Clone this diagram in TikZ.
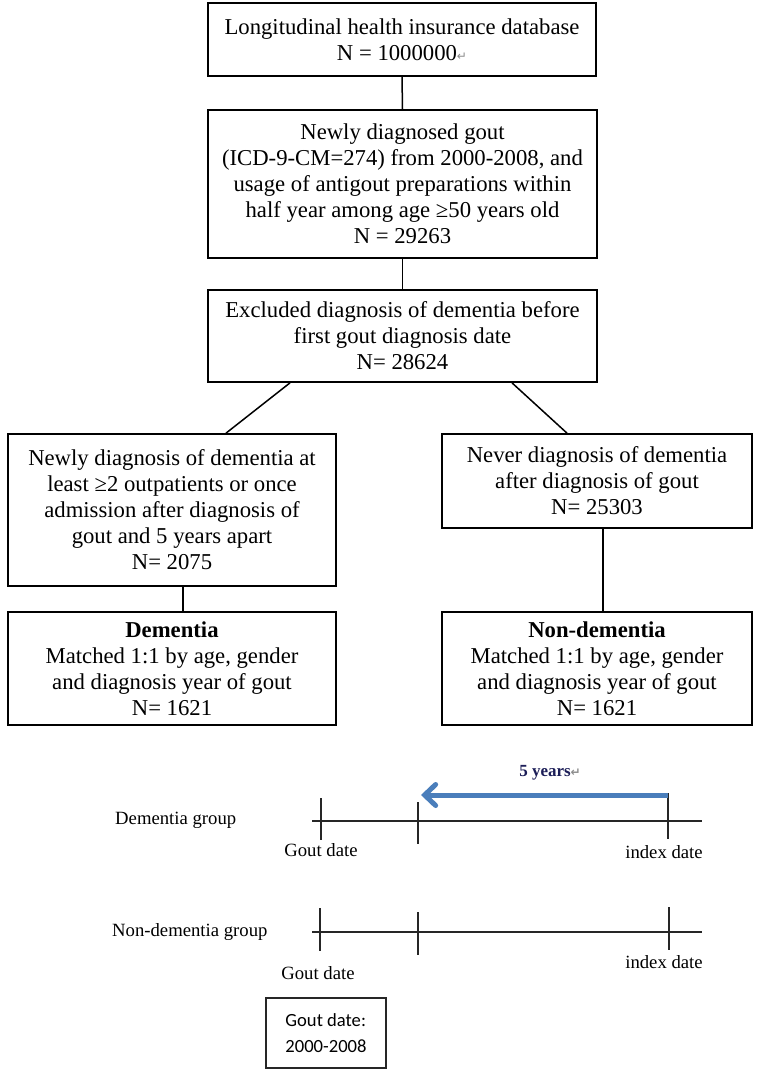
\documentclass[tikz,border=0pt]{standalone}
\usepackage{fontspec}
\setmainfont{Liberation Serif}
\newfontfamily\carlito{Carlito}
\newfontfamily\dejavu{DejaVu Sans}
\usepackage{xcolor}
\usepackage{tikz}
\usetikzlibrary{calc}
\usetikzlibrary{arrows.meta}
\definecolor{arrowblue}{RGB}{74,126,187}
\definecolor{yearsnavy}{RGB}{28,30,88}
\newcommand{\ret}{{\dejavu\color{black!45}\fontsize{12}{12}\selectfont\char"21B5}}
\tikzstyle{flowbox} = [draw=black, line width=1.7pt, rectangle, align=center,
inner sep=0pt, font=\fontsize{22.7}{26}\selectfont]
\tikzstyle{link} = [draw=black, line width=1.5pt]
\tikzstyle{timeaxis} = [draw=black!85, line width=1.5pt]
\tikzstyle{timelabel} = [inner sep=0pt, font=\fontsize{18.7}{21}\selectfont]

\begin{document}
\begin{tikzpicture}[x=1pt, y=-1pt]
        \fill[white] (0,0) rectangle (765,1073);
        \useasboundingbox (0,0) rectangle (765,1073);
        % flow chart
        \node [flowbox, minimum width=388pt, minimum height=73pt] (database) at (402,39.5)
            {Longitudinal health insurance database\\ N = 1000000\ret};
        \node [flowbox, minimum width=389pt, minimum height=148pt] (gout) at (402.5,184)
            {Newly diagnosed gout\\ (ICD-9-CM=274) from 2000-2008, and\\
             usage of antigout preparations within\\ half year among age ≥50 years old\\ N = 29263};
        \node [flowbox, minimum width=389pt, minimum height=92pt] (excluded) at (402.5,336)
            {Excluded diagnosis of dementia before\\ first gout diagnosis date\\ N= 28624};
        \node [flowbox, minimum width=328pt, minimum height=152pt] (newdem) at (172,510)
            {Newly diagnosis of dementia at\\ least ≥2 outpatients or once\\
             admission after diagnosis of\\ gout and 5 years apart\\ N= 2075};
        \node [flowbox, minimum width=310pt, minimum height=94pt] (neverdem) at (597,481)
            {Never diagnosis of dementia\\ after diagnosis of gout\\ N= 25303};
        \node [flowbox, minimum width=328pt, minimum height=113pt] (dem) at (172,668.5)
            {\textbf{Dementia}\\ Matched 1:1 by age, gender\\ and diagnosis year of gout\\ N= 1621};
        \node [flowbox, minimum width=310pt, minimum height=113pt] (nondem) at (597,668.5)
            {\textbf{Non-dementia}\\ Matched 1:1 by age, gender\\ and diagnosis year of gout\\ N= 1621};
        \draw [link] (database.south) -- (gout.north);
        \draw [link] (gout.south) -- (excluded.north);
        \draw [link] ([xshift=-112.5pt]excluded.south) -- ([xshift=54pt]newdem.north);
        \draw [link] ([xshift=109.5pt]excluded.south) -- ([xshift=-30pt]neverdem.north);
        \draw [link] ([xshift=11pt]newdem.south) -- ([xshift=11pt]dem.north);
        \draw [link] ([xshift=6pt]neverdem.south) -- ([xshift=6pt]nondem.north);
        % time lines
        \coordinate (dstart) at (312,821);
        \coordinate (dend) at (702,821);
        \coordinate (dgout) at (321,821);
        \coordinate (dfive) at (418,821);
        \coordinate (dindex) at (668,821);
        \coordinate (nstart) at (312,932);
        \coordinate (nend) at (702,932);
        \coordinate (ngout) at (320,932);
        \coordinate (nfive) at (418,932);
        \coordinate (nindex) at (669,932);
        \draw [timeaxis] (dstart) -- (dend);
        \draw [timeaxis] ([yshift=23pt]dgout) -- ([yshift=-19pt]dgout);
        \draw [timeaxis] ([yshift=19pt]dfive) -- ([yshift=-23pt]dfive);
        \draw [timeaxis] ([yshift=28pt]dindex) -- ([yshift=-18pt]dindex);
        \draw [timeaxis] (nstart) -- (nend);
        \draw [timeaxis] ([yshift=24pt]ngout) -- ([yshift=-19pt]ngout);
        \draw [timeaxis] ([yshift=20pt]nfive) -- ([yshift=-23pt]nfive);
        \draw [timeaxis] ([yshift=25pt]nindex) -- ([yshift=-18pt]nindex);
        \draw [arrowblue, line width=5pt, -{Straight Barb[length=11pt, width=21pt, line cap=round]}]
            ([yshift=26pt]dindex) -- ([yshift=26pt, xshift=3pt]dfive);
        \node [font=\fontsize{17}{20}\selectfont\bfseries, text=yearsnavy] (years) at (550,773) {5 years\ret};
        \node [timelabel, anchor=west] (demgroup) at (115,820) {Dementia group};
        \node [timelabel] (dgoutlabel) at (321,850) {Gout date};
        \node [timelabel] (dindexlabel) at (664,852) {index date};
        \node [timelabel, anchor=west] (nondemgroup) at (112,932) {Non-dementia group};
        \node [timelabel] (ngoutlabel) at (318,973) {Gout date};
        \node [timelabel] (nindexlabel) at (664,962) {index date};
        \node [draw=black!85, line width=1.2pt, minimum width=120pt, minimum height=70pt,
            align=left, inner sep=11pt, font=\carlito\fontsize{18.6}{26}\selectfont] (goutrange) at (326,1033)
            {Gout date:\\ 2000-2008};
\end{tikzpicture}
\end{document}
